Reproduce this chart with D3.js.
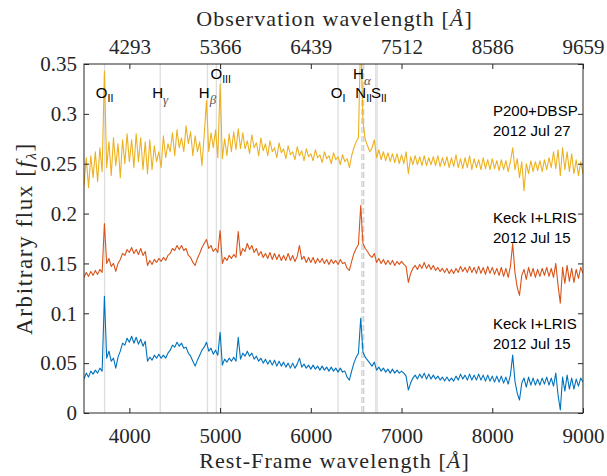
<!DOCTYPE html>
<html><head><meta charset="utf-8">
<script src="https://cdn.jsdelivr.net/npm/d3@7"></script>
<style>body{margin:0;background:#fff;} svg{display:block;}</style>
</head><body><svg id="chart" width="607" height="476"></svg>
<script>
// ---------------- data ----------------
const redshift = 0.0732;
const wavelengthStart = 3500, wavelengthStep = 25;   // rest-frame sampling grid [Å]
const bottomTickValues = [4000, 5000, 6000, 7000, 8000, 9000];
const topTickLabels = ["4293", "5366", "6439", "7512", "8586", "9659"];
const yTickValues = [0, 0.05, 0.1, 0.15, 0.2, 0.25, 0.3, 0.35];

const fluxP200 = [
0.228,0.256,0.226,0.258,0.236,0.262,0.232,0.266,0.242,0.343,
0.246,0.272,0.238,0.276,0.248,0.270,0.236,0.274,0.250,0.280,
0.252,0.274,0.246,0.280,0.252,0.276,0.244,0.272,0.240,0.274,
0.244,0.268,0.252,0.262,0.246,0.278,0.256,0.270,0.262,0.281,
0.258,0.284,0.266,0.276,0.262,0.288,0.270,0.282,0.258,0.278,
0.262,0.272,0.248,0.279,0.313,0.262,0.281,0.266,0.284,0.256,
0.330,0.255,0.275,0.258,0.280,0.262,0.282,0.264,0.285,0.265,
0.281,0.265,0.273,0.260,0.279,0.266,0.271,0.258,0.276,0.263,
0.270,0.258,0.273,0.262,0.266,0.256,0.271,0.261,0.265,0.255,
0.268,0.259,0.262,0.254,0.267,0.258,0.263,0.253,0.265,0.257,
0.260,0.253,0.264,0.256,0.259,0.251,0.262,0.255,0.258,0.250,
0.261,0.254,0.257,0.249,0.259,0.252,0.255,0.246,0.258,0.266,
0.272,0.276,0.380,0.292,0.274,0.268,0.262,0.266,0.274,0.256,
0.264,0.254,0.262,0.253,0.261,0.252,0.260,0.251,0.260,0.250,
0.259,0.250,0.262,0.240,0.257,0.249,0.258,0.249,0.257,0.248,
0.258,0.248,0.256,0.249,0.257,0.248,0.258,0.247,0.256,0.248,
0.257,0.246,0.256,0.247,0.259,0.246,0.255,0.245,0.256,0.246,
0.258,0.244,0.255,0.246,0.254,0.244,0.256,0.245,0.254,0.244,
0.255,0.245,0.253,0.243,0.254,0.244,0.253,0.242,0.252,0.266,
0.244,0.255,0.236,0.252,0.223,0.250,0.240,0.253,0.242,0.252,
0.243,0.253,0.242,0.254,0.244,0.256,0.246,0.262,0.245,0.264,
0.238,0.266,0.244,0.262,0.242,0.260,0.240,0.254,0.238,0.252,
0.240];

const fluxKeck1 = [
0.136,0.141,0.137,0.142,0.138,0.143,0.139,0.144,0.141,0.190,
0.150,0.155,0.147,0.150,0.142,0.150,0.154,0.160,0.158,0.164,
0.161,0.166,0.160,0.164,0.159,0.165,0.158,0.162,0.148,0.153,
0.149,0.154,0.151,0.155,0.152,0.156,0.153,0.158,0.160,0.165,
0.163,0.168,0.164,0.168,0.163,0.165,0.158,0.156,0.151,0.148,
0.155,0.160,0.166,0.170,0.174,0.165,0.168,0.162,0.165,0.161,
0.183,0.150,0.156,0.153,0.158,0.155,0.159,0.156,0.182,0.158,
0.165,0.162,0.170,0.164,0.168,0.161,0.165,0.158,0.162,0.156,
0.160,0.155,0.161,0.154,0.160,0.154,0.159,0.153,0.158,0.153,
0.160,0.153,0.158,0.152,0.157,0.168,0.154,0.157,0.151,0.156,
0.151,0.156,0.150,0.155,0.151,0.155,0.150,0.154,0.149,0.154,
0.150,0.153,0.149,0.154,0.150,0.151,0.145,0.143,0.152,0.160,
0.165,0.169,0.208,0.170,0.165,0.162,0.158,0.156,0.160,0.151,
0.155,0.150,0.154,0.149,0.153,0.149,0.153,0.148,0.152,0.149,
0.152,0.149,0.147,0.131,0.140,0.145,0.148,0.144,0.149,0.145,
0.151,0.145,0.149,0.144,0.148,0.143,0.146,0.142,0.145,0.141,
0.145,0.140,0.144,0.140,0.145,0.141,0.147,0.142,0.146,0.141,
0.147,0.141,0.146,0.140,0.147,0.140,0.146,0.139,0.147,0.140,
0.146,0.139,0.145,0.138,0.146,0.137,0.145,0.136,0.147,0.170,
0.141,0.126,0.118,0.138,0.144,0.134,0.146,0.137,0.145,0.136,
0.144,0.137,0.145,0.138,0.146,0.137,0.145,0.136,0.150,0.128,
0.110,0.146,0.130,0.148,0.132,0.145,0.131,0.144,0.135,0.146,
0.140];

const fluxKeck2 = [
0.034,0.040,0.036,0.042,0.039,0.043,0.040,0.045,0.042,0.117,
0.055,0.062,0.052,0.055,0.045,0.056,0.062,0.070,0.068,0.075,
0.071,0.077,0.070,0.076,0.069,0.074,0.067,0.072,0.052,0.056,
0.053,0.058,0.055,0.059,0.055,0.058,0.055,0.060,0.063,0.068,
0.066,0.071,0.067,0.070,0.065,0.066,0.060,0.057,0.052,0.047,
0.053,0.058,0.063,0.066,0.071,0.062,0.065,0.059,0.063,0.058,
0.081,0.048,0.054,0.051,0.055,0.052,0.056,0.052,0.076,0.054,
0.060,0.057,0.062,0.057,0.060,0.054,0.057,0.052,0.055,0.050,
0.054,0.049,0.053,0.048,0.053,0.047,0.052,0.047,0.051,0.046,
0.050,0.045,0.050,0.045,0.049,0.055,0.046,0.049,0.045,0.048,
0.044,0.048,0.044,0.047,0.043,0.047,0.043,0.046,0.042,0.046,
0.042,0.045,0.041,0.045,0.041,0.042,0.036,0.033,0.042,0.050,
0.056,0.060,0.095,0.061,0.056,0.053,0.050,0.047,0.051,0.043,
0.046,0.042,0.045,0.041,0.044,0.040,0.044,0.040,0.043,0.040,
0.042,0.040,0.037,0.023,0.030,0.035,0.038,0.034,0.039,0.035,
0.040,0.034,0.039,0.034,0.038,0.034,0.037,0.033,0.036,0.032,
0.036,0.032,0.035,0.032,0.037,0.033,0.039,0.034,0.038,0.033,
0.039,0.033,0.038,0.033,0.039,0.033,0.038,0.032,0.038,0.032,
0.037,0.031,0.037,0.031,0.037,0.030,0.036,0.029,0.038,0.058,
0.032,0.020,0.013,0.030,0.035,0.026,0.036,0.028,0.035,0.028,
0.034,0.028,0.035,0.029,0.036,0.028,0.035,0.027,0.040,0.018,
0.003,0.036,0.022,0.038,0.024,0.035,0.024,0.034,0.027,0.035,
0.031];

const seriesNames = ["P200+DBSP", "Keck I+LRIS", "Keck I+LRIS"];
const seriesDates = ["2012 Jul 27", "2012 Jul 15", "2012 Jul 15"];
const seriesColors = ["#EDB120", "#D95319", "#0072BD"];

const markerWavelengths = [3727, 4340, 4861, 4959, 5007, 6300, 6563, 6583, 6716, 6731];
const dashedMarkers = [6563, 6583];
const lineLabels = [
  {wl: 3727, ion: "O", sub: "II"},
  {wl: 4340, ion: "H", sub: "γ"},
  {wl: 4861, ion: "H", sub: "β"},
  {wl: 5007, ion: "O", sub: "III"},
  {wl: 6300, ion: "O", sub: "I"},
  {wl: 6563, ion: "H", sub: "α"},
  {wl: 6583, ion: "N", sub: "II"},
  {wl: 6750, ion: "S", sub: "II"}
];

// ---------------- drawing ----------------
const svg = d3.select("#chart");
const L = 84, R = 583, T = 64, B = 413;
const x = d3.scaleLinear().domain([3500, 9000]).range([L, R]);
const xTop = d3.scaleLinear().domain([3500 * (1 + redshift), 9000 * (1 + redshift)]).range([L, R]);
const y = d3.scaleLinear().domain([0, 0.35]).range([B, T]);
const serif = "'Liberation Serif','Times New Roman',serif";
const sans = "'Liberation Sans',Arial,Helvetica,sans-serif";
const axisColor = "#262626";

svg.append("defs").append("clipPath").attr("id", "plotclip")
  .append("rect").attr("x", L).attr("y", T).attr("width", R - L).attr("height", B - T);

// marker lines
svg.append("g").selectAll("line").data(markerWavelengths).join("line")
  .attr("x1", d => x(d)).attr("x2", d => x(d))
  .attr("y1", T).attr("y2", B)
  .attr("stroke", d => dashedMarkers.includes(d) ? "#cfcfcf" : "#dedede")
  .attr("stroke-width", 1.3)
  .attr("stroke-dasharray", d => dashedMarkers.includes(d) ? "6,3" : null);

// spectra
const lineGen = d3.line()
  .x((d, i) => x(wavelengthStart + i * wavelengthStep))
  .y(d => y(d));
const series = [fluxP200, fluxKeck1, fluxKeck2];
svg.append("g").attr("clip-path", "url(#plotclip)")
  .selectAll("path").data(series).join("path")
  .attr("d", d => lineGen(d))
  .attr("fill", "none")
  .attr("stroke", (d, i) => seriesColors[i])
  .attr("stroke-width", 1.1)
  .attr("stroke-linejoin", "round");

// axes
function styleAxis(g) {
  g.select(".domain").remove();
  g.selectAll(".tick line").attr("stroke", axisColor);
  g.selectAll(".tick text").attr("fill", axisColor).attr("font-family", serif).attr("font-size", 21);
}
svg.append("g").attr("transform", `translate(${L},0)`)
  .call(d3.axisLeft(y).tickValues(yTickValues).tickSize(-5).tickPadding(7)
        .tickFormat(d => d === 0 ? "0" : String(+d.toFixed(2))))
  .call(styleAxis);
svg.append("g").attr("transform", `translate(${R},0)`)
  .call(d3.axisRight(y).tickValues(yTickValues).tickSize(-5).tickFormat(""))
  .call(styleAxis);
svg.append("g").attr("transform", `translate(0,${B})`)
  .call(d3.axisBottom(x).tickValues(bottomTickValues).tickSize(-5).tickPadding(15).tickFormat(d3.format("d")))
  .call(styleAxis);
svg.append("g").attr("transform", `translate(0,${T})`)
  .call(d3.axisTop(xTop).tickValues(topTickLabels.map(Number)).tickSize(-5).tickPadding(10)
        .tickFormat((d, i) => topTickLabels[i]))
  .call(styleAxis);

svg.append("rect").attr("x", L).attr("y", T).attr("width", R - L).attr("height", B - T)
  .attr("fill", "none").attr("stroke", axisColor).attr("stroke-width", 1);

// axis titles
const topTitle = svg.append("text").attr("x", (L + R) / 2 + 1).attr("y", 26)
  .attr("text-anchor", "middle").attr("font-family", serif).attr("font-size", 22)
  .attr("letter-spacing", 1.1).attr("fill", axisColor);
topTitle.append("tspan").text("Observation wavelength [");
topTitle.append("tspan").attr("font-style", "italic").text("Å");
topTitle.append("tspan").text("]");

const botTitle = svg.append("text").attr("x", (L + R) / 2 + 1).attr("y", 468)
  .attr("text-anchor", "middle").attr("font-family", serif).attr("font-size", 22)
  .attr("letter-spacing", 1.1).attr("fill", axisColor);
botTitle.append("tspan").text("Rest-Frame wavelength [");
botTitle.append("tspan").attr("font-style", "italic").text("Å");
botTitle.append("tspan").text("]");

const yTitle = svg.append("text").attr("transform", `translate(32,${(T + B) / 2}) rotate(-90)`)
  .attr("text-anchor", "middle").attr("font-family", serif).attr("font-size", 23)
  .attr("letter-spacing", 1.6).attr("fill", axisColor);
yTitle.append("tspan").text("Arbitrary flux [");
yTitle.append("tspan").attr("font-style", "italic").text("f");
yTitle.append("tspan").attr("font-style", "italic").attr("font-size", 15).attr("dy", 4).text("λ");
yTitle.append("tspan").attr("dy", -4).text("]");

// emission line labels
const highLabel = {"O III": true, "H α": true};
const labelG = svg.append("g");
lineLabels.forEach(l => {
  const isHigh = highLabel[l.ion + " " + l.sub];
  const t = labelG.append("text").attr("x", x(l.wl)).attr("y", isHigh ? 79 : 98)
    .attr("text-anchor", "middle").attr("font-family", sans).attr("font-size", 15).attr("fill", "#000");
  t.append("tspan").text(l.ion);
  const greek = /[α-ω]/.test(l.sub);
  t.append("tspan")
    .attr("font-family", greek ? serif : sans)
    .attr("font-style", greek ? "italic" : null)
    .attr("font-size", greek ? 13 : 10.5)
    .attr("fill", greek ? "#555" : "#000")
    .attr("dy", greek ? 6 : 4)
    .text(l.sub);
});

// series labels
const seriesLabelBaselines = [116, 223, 329];
seriesNames.forEach((n, i) => {
  svg.append("text").attr("x", 493).attr("y", seriesLabelBaselines[i])
    .attr("font-family", sans).attr("font-size", 15).attr("fill", "#000").text(n);
  svg.append("text").attr("x", 493).attr("y", seriesLabelBaselines[i] + 20)
    .attr("font-family", sans).attr("font-size", 15).attr("fill", "#000").text(seriesDates[i]);
});
</script>
</body></html>
